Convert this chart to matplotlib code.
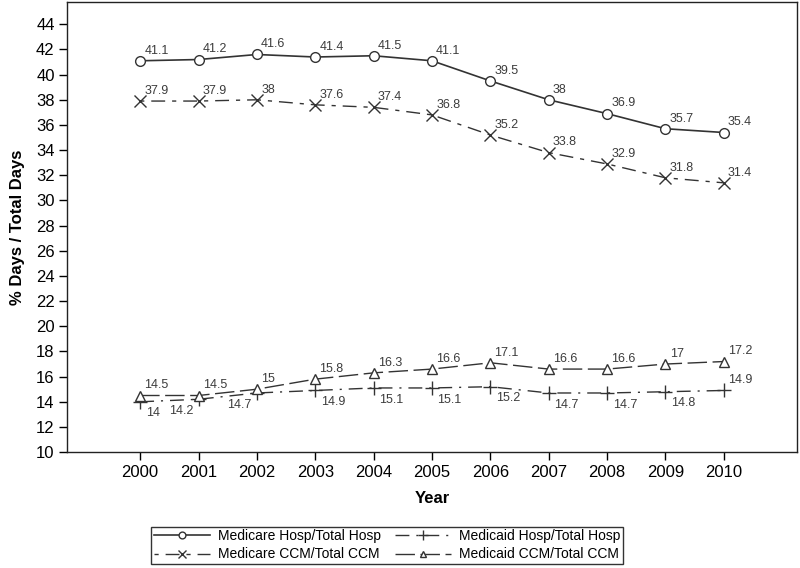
import matplotlib.pyplot as plt

plt.rcParams['font.family'] = ['Liberation Sans', 'DejaVu Sans']

years = [2000, 2001, 2002, 2003, 2004, 2005, 2006, 2007, 2008, 2009, 2010]
medicare_hosp = [41.1, 41.2, 41.6, 41.4, 41.5, 41.1, 39.5, 38, 36.9, 35.7, 35.4]
medicare_ccm = [37.9, 37.9, 38, 37.6, 37.4, 36.8, 35.2, 33.8, 32.9, 31.8, 31.4]
medicaid_hosp = [14, 14.2, 14.7, 14.9, 15.1, 15.1, 15.2, 14.7, 14.7, 14.8, 14.9]
medicaid_ccm = [14.5, 14.5, 15, 15.8, 16.3, 16.6, 17.1, 16.6, 16.6, 17, 17.2]

linea = '#333333'
texto = '#3c3c3c'

fig = plt.figure(figsize=(8, 5.68), dpi=100)
ax = fig.add_axes([0.084, 0.204, 0.912, 0.792])

l1, = ax.plot(years, medicare_hosp, color=linea, lw=1.2, marker='o', ms=7,
              mfc='white', mec=linea, mew=1, label='Medicare Hosp/Total Hosp')
l2, = ax.plot(years, medicaid_hosp, color=linea, lw=1.0, marker='+', ms=10,
              mew=1, dashes=(10, 5, 1.5, 5), label='Medicaid Hosp/Total Hosp')
l3, = ax.plot(years, medicare_ccm, color=linea, lw=1.0, marker='x', ms=8,
              mew=1, dashes=(3, 5, 10, 5), label='Medicare CCM/Total CCM')
l4, = ax.plot(years, medicaid_ccm, color=linea, lw=1.0, marker='^', ms=7,
              mfc='white', mec=linea, mew=1, dashes=(14, 4), label='Medicaid CCM/Total CCM')

def etiquetar(xs, ys, abajo=False, izquierda=()):
    for i, (x, y) in enumerate(zip(xs, ys)):
        txt = f'{y:g}'
        if abajo and i != len(xs) - 1:
            dx = -4 if i in izquierda else 4
            ax.annotate(txt, (x, y), xytext=(dx, -4), textcoords='offset points',
                        ha='right' if i in izquierda else 'left', va='top',
                        fontsize=9, color=texto)
        else:
            ax.annotate(txt, (x, y), xytext=(3, 3), textcoords='offset points',
                        ha='left', va='bottom', fontsize=9, color=texto)

etiquetar(years, medicare_hosp)
etiquetar(years, medicare_ccm)
etiquetar(years, medicaid_ccm)
etiquetar(years, medicaid_hosp, abajo=True, izquierda=(1, 2))

ax.set_xlim(1998.75, 2011.25)
ax.set_ylim(10, 45.75)
ax.set_xticks(years)
ax.set_yticks(range(10, 46, 2))
ax.tick_params(labelsize=12, length=6, width=1, colors='black', pad=3)
for s in ax.spines.values():
    s.set_color('#222222')
    s.set_linewidth(1)

ax.set_xlabel('Year', fontsize=12, fontweight='bold', labelpad=8)
ax.set_ylabel('% Days / Total Days', fontsize=12, fontweight='bold', labelpad=8)

# orden por filas: matplotlib llena por columnas
fig.legend([l1, l3, l2, l4], [l.get_label() for l in (l1, l3, l2, l4)],
           loc='upper center', bbox_to_anchor=(0.484, 0.073), ncol=2,
           fontsize=10, frameon=True, fancybox=False, edgecolor='black',
           handlelength=4, columnspacing=1.0, handletextpad=0.6, markerscale=0.7,
           borderpad=0.2, labelspacing=0.3, borderaxespad=0)

fig.savefig('out.png', dpi=100)
